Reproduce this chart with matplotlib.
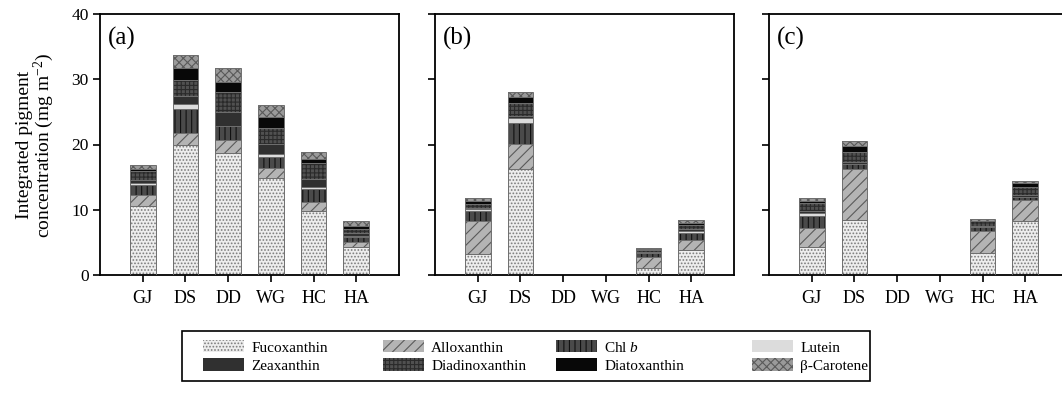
import matplotlib
matplotlib.use("Agg")
import matplotlib.pyplot as plt
from matplotlib.patches import Rectangle
import numpy as np

plt.rcParams['font.family'] = ['Liberation Serif', 'DejaVu Serif']
plt.rcParams['mathtext.fontset'] = 'custom'
plt.rcParams['mathtext.rm'] = 'Liberation Serif'
plt.rcParams['mathtext.it'] = 'Liberation Serif:italic'
plt.rcParams['hatch.linewidth'] = 0.8

sites = ['GJ', 'DS', 'DD', 'WG', 'HC', 'HA']
panels = ['(a)', '(b)', '(c)']
pigments = ['Fucoxanthin', 'Alloxanthin', 'Chl $\\mathit{b}$', 'Lutein',
            'Zeaxanthin', 'Diadinoxanthin', 'Diatoxanthin', 'β-Carotene']

# Stacked pigment values (mg m^-2), per panel, bottom to top
fucoxanthin    = {'a': [10.6, 19.85, 18.7, 14.8, 9.8, 4.25], 'b': [3.2, 16.2, 0, 0, 1.1, 3.9], 'c': [4.35, 8.4, 0, 0, 3.3, 8.3]}
alloxanthin    = {'a': [1.7, 1.95, 2.0, 1.6, 1.45, 0.8],     'b': [5.0, 3.9, 0, 0, 1.7, 1.5],   'c': [2.8, 7.8, 0, 0, 3.45, 3.2]}
chl_b          = {'a': [1.5, 3.6, 2.1, 1.7, 2.0, 0.85],      'b': [1.6, 3.2, 0, 0, 0.6, 1.1],   'c': [1.9, 0.8, 0, 0, 0.55, 0.5]}
lutein         = {'a': [0.3, 0.8, 0.0, 0.4, 0.3, 0.15],      'b': [0.25, 0.7, 0, 0, 0.0, 0.3],  'c': [0.4, 0.0, 0, 0, 0.0, 0.0]}
zeaxanthin     = {'a': [0.5, 1.2, 2.2, 1.6, 1.15, 0.35],     'b': [0.2, 0.3, 0, 0, 0.1, 0.3],   'c': [0.4, 0.3, 0, 0, 0.2, 0.2]}
diadinoxanthin = {'a': [1.3, 2.5, 3.0, 2.5, 2.4, 0.65],      'b': [0.6, 2.1, 0, 0, 0.3, 0.6],   'c': [1.2, 1.5, 0, 0, 0.7, 1.3]}
diatoxanthin   = {'a': [0.4, 1.9, 1.6, 1.6, 0.7, 0.4],       'b': [0.5, 0.9, 0, 0, 0.15, 0.3],  'c': [0.35, 0.9, 0, 0, 0.15, 0.65]}
beta_carotene  = {'a': [0.6, 1.9, 2.1, 1.8, 1.1, 0.9],       'b': [0.45, 0.7, 0, 0, 0.25, 0.4], 'c': [0.35, 0.8, 0, 0, 0.3, 0.2]}

series = [fucoxanthin, alloxanthin, chl_b, lutein, zeaxanthin,
          diadinoxanthin, diatoxanthin, beta_carotene]

# style: facecolor, hatch, hatch colour
styles = [
    ('#ededed', '.....', '#7c7c7c'),
    ('#b4b4b4', '///', '#5a5a5a'),
    ('#4a4a4a', '|||', '#111111'),
    ('#dcdcdc', '', '#dcdcdc'),
    ('#303030', '', '#303030'),
    ('#505050', '++++', '#2a2a2a'),
    ('#080808', '', '#080808'),
    ('#9a9a9a', 'xxxx', '#5a5a5a'),
]

W, H = 1062, 394
fig = plt.figure(figsize=(W / 100, H / 100), dpi=100)
lefts = [100 / W, 435 / W, 769 / W]
width = 299 / W
bottom = 1 - 275 / H
height = 261 / H

x = np.arange(len(sites))
bw = 0.6
handles = []
for pi, key in enumerate(['a', 'b', 'c']):
    ax = fig.add_axes([lefts[pi], bottom, width, height])
    base = np.zeros(len(sites))
    for si, s in enumerate(series):
        vals = np.array(s[key], dtype=float)
        fc, h, hc = styles[si]
        b = ax.bar(x, vals, bw, bottom=base, color=fc, hatch=h,
                   edgecolor=hc, linewidth=0, zorder=2)
        ax.bar(x, vals, bw, bottom=base, fill=False, edgecolor='#6e6e6e',
               linewidth=0.7, zorder=3)
        if pi == 0:
            handles.append(b)
        base += vals
    ax.set_xlim(-1, 6)
    ax.set_ylim(0, 40)
    ax.set_yticks([0, 10, 20, 30, 40])
    ax.set_xticks(x)
    ax.set_xticklabels(sites, fontsize=13)
    ax.tick_params(direction='out', length=5, width=1.2)
    ax.tick_params(axis='x', pad=6)
    if pi == 0:
        ax.tick_params(axis='y', labelsize=12.5, pad=3)
    else:
        ax.set_yticklabels([])
    for sp in ax.spines.values():
        sp.set_linewidth(1.3)
    ax.text(0.027, 0.95, panels[pi], transform=ax.transAxes, fontsize=18,
            va='top', ha='left')

fig.text(36 / W, 1 - 145 / H,
         'Integrated pigment\nconcentration (mg m$^{-2}$)',
         rotation=90, ha='center', va='center', fontsize=14,
         multialignment='center', linespacing=0.95)

# legend frame
fig.patches.append(Rectangle((182 / W, 1 - 381 / H), (870 - 182) / W, 50 / H,
                             transform=fig.transFigure, fill=False,
                             edgecolor='black', linewidth=1.2))
col_x = [203, 383, 556, 752]
for c in range(4):
    hs = [handles[c], handles[c + 4]]
    ls = [pigments[c], pigments[c + 4]]
    fig.legend(hs, ls, loc='center left',
               bbox_to_anchor=(col_x[c] / W, 1 - 356.5 / H),
               ncol=1, fontsize=11, frameon=False, borderpad=0,
               borderaxespad=0, handlelength=2.7, handleheight=0.85,
               handletextpad=0.45, labelspacing=0.25)

fig.savefig('out.png', dpi=100)
